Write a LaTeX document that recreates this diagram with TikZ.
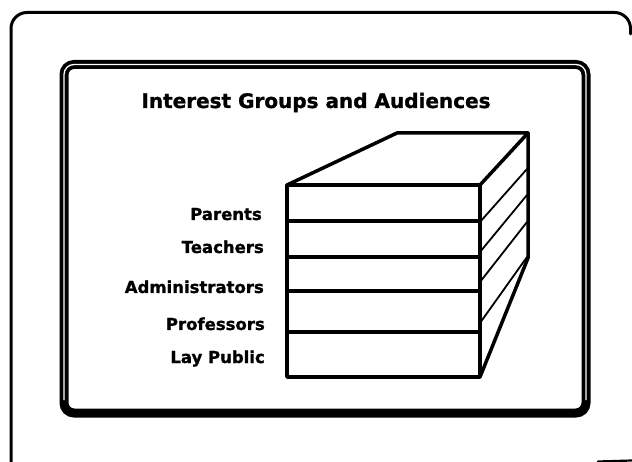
\documentclass[tikz,border=0pt]{standalone}
\usepackage{fontspec}
\setmainfont{DejaVu Sans}
\newfontfamily\heavyfont[FakeBold=1.2]{DejaVu Sans Bold}
\tikzset{
  frameline/.style={line width=3pt, line cap=round},
  boxline/.style={line width=3.5pt, line join=round, line cap=round},
  stripe/.style={line width=1.8pt, line cap=round},
  grouplabel/.style={anchor=base east, inner sep=0pt, font=\fontsize{16.5}{18}\selectfont\heavyfont},
  titlelabel/.style={anchor=base, inner sep=0pt, font=\fontsize{20}{24}\selectfont\heavyfont}
}
\begin{document}
\begin{tikzpicture}[x=1pt, y=-1pt]
\useasboundingbox (0,0) rectangle (632,462);
\clip (0,0) rectangle (632,462);

% outer sheet border
\draw[frameline, rounded corners=16] (11,470) -- (11,12.5) -- (630.5,12.5) -- (630.5,34);
\draw[line width=2.2pt, line cap=round] (598,461.5) -- (632,460.5);

% inner double-ruled frame
\draw[line width=9pt, rounded corners=10] (64,64.5) rectangle (586,413);
\draw[white, line width=1.3pt, rounded corners=10] (64,400) -- (64,64.5) -- (586,64.5) -- (586,400);

% title
\node[titlelabel] (title) at (316,108) {Interest Groups and Audiences};

% block corners
\coordinate (ftl) at (287,185);
\coordinate (ftr) at (480,185);
\coordinate (fbl) at (287,377);
\coordinate (fbr) at (480,377);
\coordinate (btl) at (397,133);
\coordinate (btr) at (528,133);
\coordinate (bbr) at (528,258);

% top and side faces
\draw[boxline] (ftl) -- (btl) -- (btr) -- (ftr);
\draw[boxline] (btr) -- (bbr) -- (fbr);

% front face with its five layers
\draw[boxline] (ftl) rectangle (fbr);
\foreach \yy in {221,257,291,332} {
  \draw[boxline] (287,\yy) -- (480,\yy);
}

% layer lines on the side face
\draw[stripe] (480,222) -- (527,169);
\draw[stripe] (480,252) -- (527,195);
\draw[stripe] (480,282) -- (527,222);
\draw[stripe] (480,323) -- (527,257);

% group names
\node[grouplabel] (parents)  at (262,220) {Parents};
\node[grouplabel] (teachers) at (264,253) {Teachers};
\node[grouplabel] (admins)   at (264,293) {Administrators};
\node[grouplabel] (profs)    at (265,330) {Professors};
\node[grouplabel] (lay)      at (265,363) {Lay Public};
\end{tikzpicture}
\end{document}
